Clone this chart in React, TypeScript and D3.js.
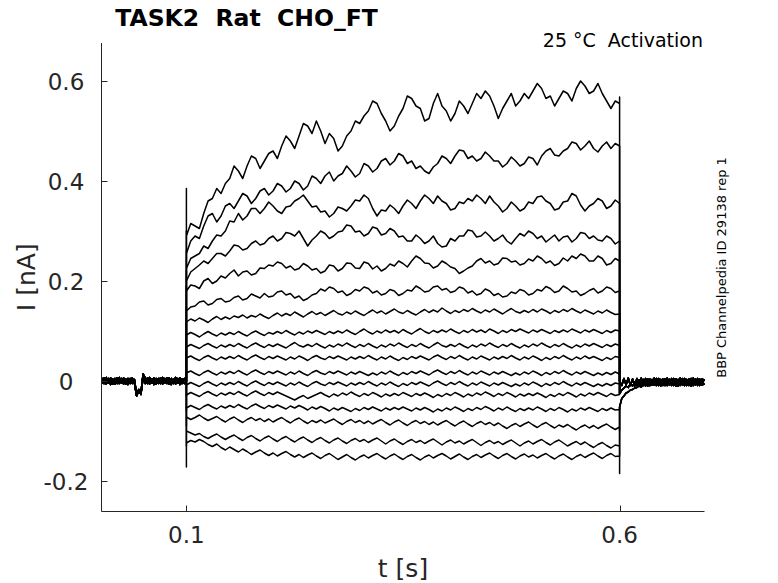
import React from "react";
import * as d3 from "d3";

// ---------- data (nA) ----------
const yTickValues = [-0.2, 0, 0.2, 0.4, 0.6];
const yTickLabels = ["-0.2", "0", "0.2", "0.4", "0.6"];
const xTickValues = [0.1, 0.6];
const xTickLabels = ["0.1", "0.6"];

// holding baseline before the pulse, 2.5 ms .. 100 ms
const preA = [
  0.006, -0.005, 0.007, -0.004, 0.006, -0.006, 0.005, -0.005, 0.007, -0.004,
  0.006, -0.006, 0.005, -0.005, 0.006, -0.004, -0.03, -0.02, -0.024, 0.014,
  0.006, -0.005, 0.007, -0.004, 0.006, -0.006, 0.005, -0.005, 0.007, -0.004,
  0.006, -0.006, 0.005, -0.005, 0.007, -0.004, 0.006, -0.005, 0.005, 0.0,
];
const preB = [
  -0.005, 0.006, -0.006, 0.005, -0.007, 0.004, -0.006, 0.006, -0.005, 0.005,
  -0.006, 0.004, -0.007, 0.005, -0.005, 0.003, -0.026, -0.017, -0.027, 0.006,
  -0.005, 0.006, -0.006, 0.004, -0.007, 0.005, -0.005, 0.006, -0.006, 0.005,
  -0.005, 0.006, -0.007, 0.004, -0.006, 0.005, -0.007, 0.004, -0.005, 0.0,
];

// after the pulse, 600 ms .. 697.5 ms
const postA = [
  0.0, -0.009, 0.005, -0.008, 0.006, -0.009, 0.004, -0.01, 0.005, -0.008,
  0.006, -0.009, 0.005, -0.01, 0.004, -0.008, 0.006, -0.009, 0.005, -0.01,
  0.004, -0.009, 0.006, -0.008, 0.005, -0.009, 0.004, -0.01, 0.006, -0.008,
  0.005, -0.009, 0.004, -0.01, 0.006, -0.008, 0.005, -0.009, 0.004, -0.008,
];
const postB = [
  -0.052, -0.035, -0.03, -0.024, -0.022, -0.018, -0.017, -0.014, -0.013, -0.01,
  -0.012, -0.006, -0.01, -0.003, -0.009, 0.0, -0.008, 0.002, -0.008, 0.003,
  -0.009, 0.004, -0.008, 0.003, -0.009, 0.004, -0.008, 0.003, -0.009, 0.005,
  -0.008, 0.003, -0.009, 0.004, -0.007, 0.003, -0.009, 0.004, -0.008, 0.003,
];
const postC = [
  -0.025, -0.018, -0.014, -0.01, -0.013, -0.005, -0.01, -0.002, -0.009, 0.002,
  -0.009, 0.003, -0.008, 0.004, -0.009, 0.003, -0.008, 0.005, -0.009, 0.003,
  -0.007, 0.004, -0.009, 0.003, -0.008, 0.005, -0.01, 0.003, -0.007, 0.004,
  -0.009, 0.003, -0.008, 0.005, -0.009, 0.004, -0.007, 0.003, -0.008, 0.004,
];

// pulse currents, 100 ms .. 600 ms every 5 ms (101 values each)
const trace1 = [
  0.29, 0.315, 0.31, 0.305, 0.335, 0.36, 0.365, 0.385, 0.375, 0.395,
  0.405, 0.43, 0.42, 0.405, 0.43, 0.45, 0.445, 0.425, 0.44, 0.455,
  0.46, 0.445, 0.47, 0.49, 0.48, 0.465, 0.49, 0.515, 0.51, 0.495,
  0.52, 0.5, 0.475, 0.495, 0.485, 0.46, 0.47, 0.49, 0.5, 0.52,
  0.515, 0.53, 0.54, 0.56, 0.555, 0.535, 0.52, 0.5, 0.51, 0.53,
  0.545, 0.57, 0.565, 0.55, 0.545, 0.52, 0.525, 0.555, 0.575, 0.55,
  0.54, 0.52, 0.535, 0.56, 0.55, 0.535, 0.555, 0.575, 0.565, 0.58,
  0.57, 0.55, 0.525, 0.545, 0.56, 0.575, 0.55, 0.56, 0.575, 0.565,
  0.58, 0.595, 0.585, 0.565, 0.57, 0.55, 0.565, 0.58, 0.575, 0.56,
  0.585, 0.6, 0.59, 0.575, 0.58, 0.595, 0.575, 0.56, 0.545, 0.56,
  0.555,
];
const trace2 = [
  0.255, 0.28, 0.29, 0.285, 0.31, 0.33, 0.335, 0.318, 0.33, 0.35,
  0.355, 0.345, 0.36, 0.375, 0.37, 0.355, 0.365, 0.38, 0.385, 0.372,
  0.38, 0.395, 0.39, 0.378, 0.385, 0.4, 0.395, 0.382, 0.39, 0.41,
  0.405, 0.395, 0.41, 0.418, 0.4, 0.41, 0.415, 0.43, 0.42, 0.408,
  0.415, 0.435, 0.43, 0.418, 0.425, 0.44, 0.445, 0.432, 0.44, 0.455,
  0.45, 0.435, 0.44, 0.425, 0.43, 0.42, 0.415, 0.428, 0.435, 0.45,
  0.445, 0.435, 0.45, 0.462, 0.46, 0.445, 0.45, 0.44, 0.445, 0.458,
  0.45, 0.44, 0.44, 0.428, 0.435, 0.448, 0.44, 0.43, 0.435, 0.448,
  0.445, 0.432, 0.45, 0.46, 0.465, 0.452, 0.45, 0.46, 0.465, 0.478,
  0.475, 0.462, 0.47, 0.48, 0.465, 0.458, 0.47, 0.478, 0.465, 0.475,
  0.47,
];
const trace3 = [
  0.225, 0.245, 0.25, 0.255, 0.27, 0.265, 0.28, 0.292, 0.29, 0.3,
  0.32, 0.318, 0.335, 0.322, 0.33, 0.345, 0.345, 0.335, 0.345, 0.358,
  0.35, 0.34, 0.335, 0.348, 0.35, 0.36, 0.365, 0.372, 0.36, 0.348,
  0.35, 0.338, 0.34, 0.328, 0.335, 0.348, 0.345, 0.34, 0.35, 0.362,
  0.36, 0.372, 0.365, 0.345, 0.33, 0.342, 0.34, 0.352, 0.345, 0.335,
  0.35, 0.362, 0.355, 0.345, 0.36, 0.372, 0.365, 0.355, 0.37, 0.36,
  0.355, 0.342, 0.345, 0.358, 0.355, 0.365, 0.36, 0.372, 0.365, 0.355,
  0.37, 0.358, 0.35, 0.338, 0.345, 0.358, 0.35, 0.34, 0.345, 0.358,
  0.355, 0.368, 0.37, 0.36, 0.355, 0.342, 0.345, 0.358, 0.36, 0.375,
  0.37, 0.352, 0.34, 0.35, 0.355, 0.365, 0.36, 0.345, 0.35, 0.362,
  0.355,
];
const trace4 = [
  0.2, 0.218, 0.225, 0.232, 0.24, 0.235, 0.245, 0.255, 0.255, 0.25,
  0.26, 0.272, 0.27, 0.262, 0.265, 0.275, 0.28, 0.272, 0.275, 0.285,
  0.29, 0.28, 0.285, 0.297, 0.295, 0.29, 0.3, 0.285, 0.27, 0.282,
  0.29, 0.3, 0.295, 0.285, 0.29, 0.298, 0.3, 0.312, 0.31, 0.298,
  0.3, 0.29, 0.295, 0.308, 0.305, 0.292, 0.295, 0.305, 0.3, 0.288,
  0.29, 0.28, 0.28, 0.292, 0.285, 0.275, 0.28, 0.29, 0.275, 0.268,
  0.27, 0.285, 0.28, 0.29, 0.29, 0.302, 0.3, 0.288, 0.29, 0.298,
  0.29, 0.28, 0.285, 0.292, 0.28, 0.274, 0.285, 0.295, 0.29, 0.3,
  0.295, 0.285, 0.29, 0.278, 0.285, 0.292, 0.28, 0.288, 0.29, 0.278,
  0.285, 0.297, 0.295, 0.285, 0.29, 0.282, 0.28, 0.29, 0.285, 0.274,
  0.28,
];
const trace5 = [
  0.18, 0.192, 0.19, 0.185, 0.2, 0.205, 0.195, 0.2, 0.21, 0.206,
  0.215, 0.222, 0.21, 0.218, 0.22, 0.212, 0.215, 0.226, 0.225, 0.232,
  0.23, 0.238, 0.235, 0.226, 0.23, 0.222, 0.225, 0.235, 0.23, 0.222,
  0.225, 0.216, 0.22, 0.232, 0.23, 0.22, 0.225, 0.236, 0.235, 0.226,
  0.225, 0.238, 0.235, 0.224, 0.23, 0.22, 0.225, 0.234, 0.23, 0.24,
  0.235, 0.228, 0.24, 0.25, 0.245, 0.236, 0.235, 0.226, 0.23, 0.24,
  0.235, 0.228, 0.225, 0.215, 0.22, 0.226, 0.23, 0.24, 0.245, 0.236,
  0.24, 0.232, 0.235, 0.246, 0.245, 0.238, 0.24, 0.232, 0.235, 0.244,
  0.24, 0.25, 0.245, 0.236, 0.24, 0.231, 0.235, 0.246, 0.24, 0.25,
  0.245, 0.254, 0.25, 0.24, 0.24, 0.25, 0.245, 0.232, 0.235, 0.245,
  0.24,
];
const trace6 = [
  0.14, 0.148, 0.15, 0.158, 0.16, 0.152, 0.155, 0.163, 0.165, 0.158,
  0.16, 0.167, 0.17, 0.162, 0.165, 0.174, 0.17, 0.166, 0.175, 0.168,
  0.17, 0.178, 0.18, 0.172, 0.175, 0.166, 0.17, 0.161, 0.165, 0.172,
  0.175, 0.184, 0.18, 0.188, 0.185, 0.177, 0.18, 0.171, 0.175, 0.183,
  0.18, 0.188, 0.185, 0.176, 0.18, 0.172, 0.175, 0.183, 0.18, 0.171,
  0.175, 0.182, 0.18, 0.19, 0.185, 0.178, 0.18, 0.188, 0.19, 0.182,
  0.185, 0.177, 0.18, 0.188, 0.185, 0.176, 0.18, 0.172, 0.175, 0.184,
  0.18, 0.171, 0.175, 0.168, 0.17, 0.178, 0.175, 0.183, 0.18, 0.172,
  0.175, 0.183, 0.18, 0.189, 0.185, 0.177, 0.18, 0.19, 0.185, 0.178,
  0.18, 0.171, 0.175, 0.181, 0.185, 0.176, 0.18, 0.188, 0.185, 0.177,
  0.18,
];
const trace7 = [
  0.118, 0.124, 0.12, 0.126, 0.122, 0.117, 0.124, 0.129, 0.123, 0.128,
  0.124, 0.13, 0.127, 0.132, 0.126, 0.131, 0.128, 0.134, 0.129, 0.125,
  0.131, 0.136, 0.13, 0.135, 0.131, 0.138, 0.133, 0.128, 0.134, 0.139,
  0.133, 0.137, 0.131, 0.136, 0.141, 0.135, 0.132, 0.138, 0.134, 0.14,
  0.135, 0.131, 0.137, 0.142, 0.136, 0.14, 0.134, 0.139, 0.144, 0.138,
  0.135, 0.141, 0.136, 0.132, 0.138, 0.143, 0.137, 0.142, 0.138, 0.146,
  0.14, 0.135, 0.141, 0.137, 0.143, 0.139, 0.145, 0.14, 0.136, 0.142,
  0.138, 0.144, 0.139, 0.134, 0.14, 0.145, 0.139, 0.136, 0.141, 0.137,
  0.143, 0.138, 0.144, 0.14, 0.135, 0.141, 0.137, 0.143, 0.139, 0.145,
  0.14, 0.136, 0.142, 0.138, 0.134, 0.14, 0.136, 0.142, 0.137, 0.133,
  0.134,
];
const trace8 = [
  0.092, 0.097, 0.093, 0.088, 0.094, 0.099, 0.094, 0.09, 0.096, 0.092,
  0.097, 0.093, 0.099, 0.094, 0.09, 0.096, 0.1, 0.095, 0.091, 0.097,
  0.094, 0.099, 0.095, 0.101, 0.096, 0.092, 0.098, 0.094, 0.1, 0.096,
  0.101, 0.097, 0.093, 0.099, 0.095, 0.1, 0.096, 0.102, 0.097, 0.093,
  0.099, 0.104, 0.098, 0.094, 0.1, 0.096, 0.102, 0.097, 0.101, 0.096,
  0.103, 0.098, 0.094, 0.1, 0.105, 0.099, 0.095, 0.101, 0.097, 0.102,
  0.098, 0.104, 0.099, 0.095, 0.101, 0.097, 0.103, 0.098, 0.102, 0.097,
  0.104, 0.1, 0.095, 0.101, 0.097, 0.103, 0.099, 0.104, 0.1, 0.096,
  0.102, 0.098, 0.103, 0.099, 0.095, 0.101, 0.097, 0.102, 0.098, 0.104,
  0.1, 0.096, 0.102, 0.098, 0.103, 0.099, 0.095, 0.101, 0.097, 0.102,
  0.1,
];
const trace9 = [
  0.068, 0.073, 0.069, 0.065, 0.071, 0.075, 0.07, 0.066, 0.072, 0.068,
  0.073, 0.069, 0.075, 0.07, 0.066, 0.072, 0.076, 0.071, 0.067, 0.073,
  0.069, 0.074, 0.07, 0.066, 0.072, 0.077, 0.071, 0.068, 0.073, 0.069,
  0.075, 0.07, 0.066, 0.072, 0.068, 0.074, 0.07, 0.076, 0.071, 0.067,
  0.073, 0.069, 0.075, 0.07, 0.066, 0.072, 0.068, 0.074, 0.07, 0.076,
  0.071, 0.067, 0.073, 0.069, 0.075, 0.07, 0.066, 0.072, 0.077, 0.071,
  0.068, 0.073, 0.069, 0.075, 0.07, 0.066, 0.072, 0.068, 0.074, 0.07,
  0.076, 0.071, 0.067, 0.073, 0.069, 0.075, 0.07, 0.066, 0.072, 0.068,
  0.074, 0.07, 0.076, 0.071, 0.067, 0.073, 0.069, 0.075, 0.07, 0.066,
  0.072, 0.068, 0.074, 0.07, 0.075, 0.071, 0.067, 0.073, 0.069, 0.074,
  0.071,
];
const trace10 = [
  0.046, 0.05, 0.045, 0.041, 0.047, 0.051, 0.046, 0.042, 0.048, 0.044,
  0.049, 0.045, 0.051, 0.046, 0.042, 0.048, 0.052, 0.047, 0.043, 0.049,
  0.045, 0.05, 0.046, 0.042, 0.048, 0.044, 0.05, 0.046, 0.041, 0.047,
  0.051, 0.046, 0.043, 0.049, 0.045, 0.05, 0.046, 0.042, 0.048, 0.044,
  0.049, 0.045, 0.051, 0.046, 0.042, 0.048, 0.044, 0.05, 0.045, 0.041,
  0.047, 0.043, 0.049, 0.045, 0.05, 0.046, 0.042, 0.048, 0.052, 0.047,
  0.043, 0.049, 0.045, 0.051, 0.046, 0.042, 0.048, 0.044, 0.05, 0.046,
  0.042, 0.048, 0.044, 0.049, 0.045, 0.051, 0.046, 0.042, 0.048, 0.044,
  0.05, 0.046, 0.041, 0.047, 0.043, 0.049, 0.045, 0.051, 0.046, 0.042,
  0.048, 0.044, 0.05, 0.045, 0.049, 0.045, 0.041, 0.047, 0.043, 0.049,
  0.047,
];
const trace11 = [
  0.016, 0.02, 0.015, 0.011, 0.017, 0.021, 0.016, 0.012, 0.018, 0.014,
  0.019, 0.015, 0.021, 0.016, 0.012, 0.018, 0.022, 0.017, 0.013, 0.019,
  0.015, 0.02, 0.016, 0.012, 0.018, 0.014, 0.02, 0.015, 0.011, 0.017,
  0.021, 0.016, 0.013, 0.019, 0.015, 0.02, 0.016, 0.012, 0.018, 0.014,
  0.019, 0.015, 0.011, 0.016, 0.012, 0.018, 0.014, 0.02, 0.015, 0.011,
  0.017, 0.013, 0.019, 0.015, 0.02, 0.016, 0.012, 0.018, 0.022, 0.017,
  0.013, 0.019, 0.015, 0.021, 0.016, 0.012, 0.018, 0.014, 0.02, 0.016,
  0.012, 0.018, 0.014, 0.019, 0.015, 0.011, 0.016, 0.012, 0.018, 0.014,
  0.02, 0.016, 0.011, 0.017, 0.013, 0.019, 0.015, 0.021, 0.016, 0.012,
  0.018, 0.014, 0.019, 0.015, 0.011, 0.016, 0.012, 0.017, 0.013, 0.018,
  0.014,
];
const trace12 = [
  -0.008, -0.003, -0.007, -0.011, -0.005, -0.001, -0.006, -0.01, -0.004, -0.008,
  -0.003, -0.007, -0.001, -0.006, -0.01, -0.004, 0.0, -0.005, -0.009, -0.003,
  -0.007, -0.002, -0.006, -0.01, -0.004, -0.008, -0.002, -0.007, -0.011, -0.005,
  -0.001, -0.006, -0.009, -0.003, -0.007, -0.002, -0.006, -0.01, -0.004, -0.008,
  -0.003, -0.007, -0.001, -0.006, -0.01, -0.004, -0.008, -0.002, -0.007, -0.011,
  -0.005, -0.009, -0.003, -0.007, -0.002, -0.006, -0.01, -0.004, 0.0, -0.005,
  -0.009, -0.003, -0.007, -0.001, -0.006, -0.01, -0.004, -0.008, -0.002, -0.006,
  -0.01, -0.004, -0.008, -0.003, -0.007, -0.011, -0.006, -0.01, -0.004, -0.008,
  -0.002, -0.006, -0.011, -0.005, -0.009, -0.003, -0.007, -0.001, -0.006, -0.01,
  -0.004, -0.008, -0.003, -0.007, -0.011, -0.006, -0.01, -0.005, -0.009, -0.004,
  -0.006,
];
const trace13 = [
  -0.028, -0.023, -0.027, -0.031, -0.025, -0.021, -0.026, -0.03, -0.024, -0.028,
  -0.023, -0.027, -0.021, -0.026, -0.03, -0.024, -0.02, -0.025, -0.029, -0.023,
  -0.027, -0.022, -0.026, -0.03, -0.034, -0.038, -0.033, -0.029, -0.035, -0.031,
  -0.027, -0.023, -0.028, -0.032, -0.026, -0.03, -0.024, -0.028, -0.022, -0.027,
  -0.031, -0.025, -0.029, -0.023, -0.027, -0.032, -0.026, -0.03, -0.025, -0.029,
  -0.023, -0.027, -0.031, -0.025, -0.029, -0.024, -0.028, -0.033, -0.027, -0.031,
  -0.025, -0.029, -0.023, -0.027, -0.032, -0.026, -0.03, -0.024, -0.028, -0.022,
  -0.026, -0.031, -0.025, -0.029, -0.023, -0.027, -0.032, -0.026, -0.03, -0.025,
  -0.029, -0.024, -0.028, -0.033, -0.027, -0.031, -0.025, -0.029, -0.023, -0.027,
  -0.032, -0.026, -0.03, -0.024, -0.028, -0.023, -0.027, -0.031, -0.025, -0.029,
  -0.027,
];
const trace14 = [
  -0.054, -0.049, -0.053, -0.057, -0.051, -0.047, -0.052, -0.056, -0.05, -0.054,
  -0.049, -0.053, -0.047, -0.052, -0.056, -0.05, -0.046, -0.051, -0.055, -0.049,
  -0.053, -0.048, -0.052, -0.056, -0.05, -0.054, -0.049, -0.053, -0.058, -0.052,
  -0.056, -0.051, -0.055, -0.06, -0.054, -0.058, -0.053, -0.057, -0.061, -0.055,
  -0.059, -0.053, -0.057, -0.052, -0.056, -0.06, -0.054, -0.058, -0.053, -0.057,
  -0.052, -0.056, -0.06, -0.054, -0.058, -0.053, -0.057, -0.062, -0.056, -0.06,
  -0.054, -0.058, -0.052, -0.056, -0.061, -0.055, -0.059, -0.053, -0.057, -0.051,
  -0.055, -0.06, -0.054, -0.058, -0.052, -0.057, -0.061, -0.055, -0.059, -0.054,
  -0.058, -0.052, -0.056, -0.061, -0.055, -0.059, -0.053, -0.057, -0.062, -0.056,
  -0.06, -0.054, -0.058, -0.053, -0.057, -0.061, -0.055, -0.059, -0.054, -0.058,
  -0.057,
];
const trace15 = [
  -0.072, -0.077, -0.073, -0.068, -0.074, -0.079, -0.075, -0.071, -0.077, -0.082,
  -0.076, -0.072, -0.078, -0.083, -0.077, -0.073, -0.079, -0.075, -0.081, -0.076,
  -0.082, -0.077, -0.073, -0.079, -0.084, -0.078, -0.074, -0.08, -0.085, -0.079,
  -0.083, -0.078, -0.084, -0.08, -0.076, -0.082, -0.087, -0.081, -0.077, -0.083,
  -0.079, -0.085, -0.08, -0.086, -0.081, -0.077, -0.083, -0.088, -0.082, -0.078,
  -0.084, -0.089, -0.083, -0.079, -0.085, -0.081, -0.087, -0.082, -0.088, -0.083,
  -0.079, -0.085, -0.09, -0.084, -0.08, -0.086, -0.091, -0.085, -0.081, -0.087,
  -0.083, -0.089, -0.084, -0.09, -0.095, -0.089, -0.085, -0.091, -0.086, -0.082,
  -0.088, -0.093, -0.087, -0.083, -0.089, -0.094, -0.088, -0.092, -0.087, -0.093,
  -0.098, -0.092, -0.088, -0.094, -0.089, -0.095, -0.09, -0.086, -0.092, -0.097,
  -0.092,
];
const trace16 = [
  -0.1, -0.104, -0.108, -0.105, -0.111, -0.115, -0.11, -0.106, -0.112, -0.117,
  -0.112, -0.108, -0.114, -0.119, -0.113, -0.109, -0.115, -0.12, -0.114, -0.11,
  -0.116, -0.121, -0.115, -0.111, -0.117, -0.122, -0.116, -0.112, -0.118, -0.123,
  -0.117, -0.113, -0.119, -0.124, -0.118, -0.114, -0.12, -0.125, -0.119, -0.115,
  -0.121, -0.117, -0.123, -0.118, -0.114, -0.12, -0.126, -0.12, -0.116, -0.122,
  -0.127, -0.121, -0.117, -0.123, -0.119, -0.125, -0.12, -0.116, -0.122, -0.128,
  -0.122, -0.118, -0.124, -0.12, -0.126, -0.121, -0.117, -0.123, -0.129, -0.123,
  -0.119, -0.125, -0.121, -0.127, -0.122, -0.118, -0.124, -0.13, -0.124, -0.12,
  -0.126, -0.121, -0.117, -0.123, -0.128, -0.122, -0.118, -0.124, -0.13, -0.125,
  -0.121, -0.127, -0.122, -0.128, -0.133, -0.127, -0.123, -0.129, -0.134, -0.128,
  -0.13,
];
const trace17 = [
  -0.124, -0.119, -0.122, -0.117, -0.121, -0.127, -0.131, -0.126, -0.133, -0.138,
  -0.132, -0.137, -0.142, -0.136, -0.141, -0.147, -0.142, -0.138, -0.144, -0.149,
  -0.144, -0.15, -0.145, -0.141, -0.147, -0.152, -0.147, -0.153, -0.148, -0.144,
  -0.15, -0.155, -0.149, -0.145, -0.151, -0.157, -0.152, -0.147, -0.153, -0.158,
  -0.152, -0.148, -0.154, -0.149, -0.145, -0.151, -0.156, -0.15, -0.146, -0.152,
  -0.157, -0.151, -0.147, -0.153, -0.158, -0.152, -0.148, -0.154, -0.149, -0.145,
  -0.15, -0.156, -0.151, -0.146, -0.152, -0.157, -0.151, -0.147, -0.153, -0.148,
  -0.144, -0.15, -0.155, -0.149, -0.145, -0.151, -0.156, -0.15, -0.146, -0.152,
  -0.148, -0.154, -0.149, -0.145, -0.151, -0.156, -0.15, -0.146, -0.152, -0.157,
  -0.151, -0.147, -0.153, -0.148, -0.144, -0.15, -0.155, -0.149, -0.145, -0.151,
  -0.15,
];

const pulseTraces = [
  trace1, trace2, trace3, trace4, trace5, trace6, trace7, trace8, trace9,
  trace10, trace11, trace12, trace13, trace14, trace15, trace16, trace17,
];
// capacitive transient peaks at pulse onset / offset
const onsetPeaks = [
  0.385, 0.3, 0.26, 0.22, 0.19, 0.15, 0.12, 0.095, 0.07, 0.046, 0.016,
  -0.006, -0.03, -0.06, -0.09, -0.13, -0.172,
];
const offsetPeaks = [
  0.568, 0.47, 0.355, 0.28, 0.24, 0.18, 0.134, 0.1, 0.071, 0.047, 0.014,
  -0.006, -0.027, -0.058, -0.1, -0.15, -0.185,
];
const preBaselines = [preA, preB];
const postBaselines = [postA, postB, postC];
const postAssign = [0, 2, 0, 2, 0, 2, 0, 2, 0, 2, 0, 2, 2, 1, 1, 1, 1];

const title = "TASK2  Rat  CHO_FT";
const subtitle = "25 °C  Activation";
const sideLabel = "BBP Channelpedia ID 29138 rep 1";
const xLabel = "t [s]";
const yLabel = "I [nA]";

// ---------- layout ----------
const W = 778;
const H = 583;
const left = 101.5;
const right = 704.5;
const top = 43;
const bottom = 511.5;
const FONT = "'DejaVu Sans', sans-serif";
const TXT = "#262626";
const pre: React.CSSProperties = { whiteSpace: "pre" };

export default function App() {
  const x = d3.scaleLinear().domain([0.002, 0.698]).range([left, right]);
  const y = d3.scaleLinear().domain([-0.261, 0.676]).range([bottom, top]);

  const line = d3
    .line<[number, number]>()
    .x((d) => x(d[0]))
    .y((d) => y(d[1]));

  const paths = pulseTraces.map((tr, i) => {
    const preV = preBaselines[i % 2];
    const postV = postBaselines[postAssign[i]];
    const pts: [number, number][] = [];
    const preT = d3.scaleLinear().domain([0, preV.length - 1]).range([0.0025, 0.1]);
    const pulseT = d3.scaleLinear().domain([0, tr.length - 1]).range([0.1, 0.6]);
    const postT = d3.scaleLinear().domain([0, postV.length - 1]).range([0.6, 0.6975]);
    preV.forEach((v, k) => pts.push([preT(k), v]));
    pts.push([0.1, onsetPeaks[i]]);
    tr.forEach((v, k) => pts.push([pulseT(k), v]));
    pts.push([0.6, offsetPeaks[i]]);
    postV.forEach((v, k) => pts.push([postT(k), v]));
    return line(pts) as string;
  });

  const tickLen = 6;

  return (
    <div style={{ position: "absolute", left: 0, top: 0, width: W, height: H, background: "#fff" }}>
      <svg width={W} height={H} style={{ display: "block" }}>
        <rect width={W} height={H} fill="#fff" />
        <g fill="none" stroke="#000" strokeWidth={1.5} strokeLinejoin="round">
          {paths.map((p, i) => (
            <path key={i} d={p} />
          ))}
        </g>
        <g stroke={TXT} strokeWidth={1} fill="none">
          <line x1={left} x2={left} y1={top} y2={bottom} />
          <line x1={left} x2={right} y1={bottom} y2={bottom} />
          {yTickValues.map((v, i) => (
            <line key={"yt" + i} x1={left} x2={left + tickLen} y1={Math.round(y(v)) + 0.5} y2={Math.round(y(v)) + 0.5} />
          ))}
          {xTickValues.map((v, i) => (
            <line key={"xt" + i} x1={Math.round(x(v)) + 0.5} x2={Math.round(x(v)) + 0.5} y1={bottom} y2={bottom - tickLen} />
          ))}
        </g>
        <g fontFamily={FONT} fill={TXT} fontSize={23}>
          {yTickValues.map((v, i) => (
            <text key={"yl" + i} x={66} y={y(v) + 8.5} textAnchor="middle">
              {yTickLabels[i]}
            </text>
          ))}
          {xTickValues.map((v, i) => (
            <text key={"xl" + i} x={x(v)} y={543} textAnchor="middle">
              {xTickLabels[i]}
            </text>
          ))}
        </g>
        <text x={(left + right) / 2} y={577} textAnchor="middle" fontFamily={FONT} fontSize={25} fill={TXT}>
          {xLabel}
        </text>
        <text
          transform={`translate(35, ${(top + bottom) / 2}) rotate(-90)`}
          textAnchor="middle"
          fontFamily={FONT}
          fontSize={25}
          fill={TXT}
        >
          {yLabel}
        </text>
        <text x={246.5} y={26} textAnchor="middle" fontFamily={FONT} fontWeight="bold" fontSize={23.5} fill="#000" xmlSpace="preserve" style={pre}>
          {title}
        </text>
        <text x={703} y={47} textAnchor="end" fontFamily={FONT} fontSize={19} fill="#000" xmlSpace="preserve" style={pre}>
          {subtitle}
        </text>
        <text
          transform={`translate(726, 267.5) rotate(-90)`}
          textAnchor="middle"
          fontFamily={FONT}
          fontSize={13}
          fill="#000"
        >
          {sideLabel}
        </text>
      </svg>
    </div>
  );
}
